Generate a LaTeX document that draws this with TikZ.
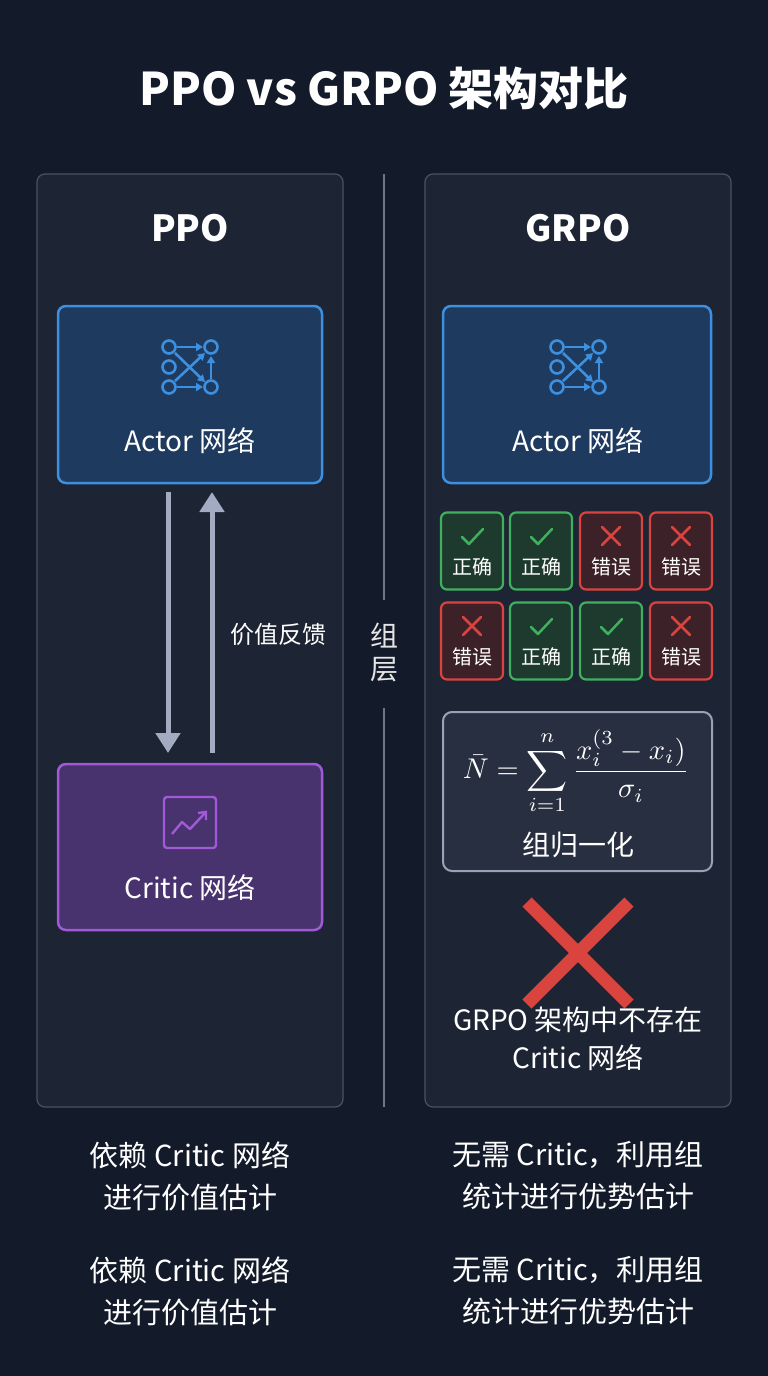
\documentclass[tikz,border=0pt]{standalone}
\usepackage{fontspec}
\setmainfont{Noto Sans CJK SC}
\usetikzlibrary{arrows.meta}
\definecolor{bg}{HTML}{131A2A}
\definecolor{panel}{HTML}{1D2434}
\definecolor{pborder}{HTML}{4A5265}
\definecolor{ablue}{HTML}{3D8FE0}
\definecolor{ablfill}{HTML}{1E3A5E}
\definecolor{cpur}{HTML}{A05AD8}
\definecolor{cpfill}{HTML}{48336E}
\definecolor{gok}{HTML}{3FB15E}
\definecolor{gfill}{HTML}{1E3A2E}
\definecolor{rbad}{HTML}{D9443F}
\definecolor{rfill}{HTML}{3D2129}
\definecolor{arr}{HTML}{A3ABC2}
\definecolor{fbox}{HTML}{282F40}
\tikzset{
 panelbox/.style={draw=pborder,fill=panel,rounded corners=8pt,line width=1.2pt},
 actorbox/.style={draw=ablue,fill=ablfill,rounded corners=8pt,line width=2.5pt},
 criticbox/.style={draw=cpur,fill=cpfill,rounded corners=8pt,line width=2.5pt},
 okbox/.style={draw=gok,fill=gfill,rounded corners=6pt,line width=2.2pt,minimum width=62pt,minimum height=77pt,inner sep=0},
 badbox/.style={draw=rbad,fill=rfill,rounded corners=6pt,line width=2.2pt,minimum width=62pt,minimum height=77pt,inner sep=0},
 txt/.style={text=white,font=\fontsize{28}{32}\selectfont},
 small/.style={text=white,font=\fontsize{20}{24}\selectfont},
 bigarrow/.style={draw=arr,line width=5pt,-{Triangle[length=20pt,width=24pt]}},
}
\newcommand{\netico}[1]{%
 \begin{scope}[shift={#1},draw=ablue,line width=2.6pt]
  \foreach \p in {(-21,-20),(-21,0),(-21,20),(21,-20),(21,20)} \draw \p circle (6.5pt);
  \draw[-{Triangle[length=7pt,width=8pt]}] (-13,-20)--(13,-20);
  \draw[-{Triangle[length=7pt,width=8pt]}] (-13,20)--(13,20);
  \draw[-{Triangle[length=7pt,width=8pt]}] (-15,-14)--(15,15);
  \draw[-{Triangle[length=7pt,width=8pt]}] (-15,14)--(15,-14);
  \draw[-{Triangle[length=7pt,width=8pt]}] (21,12)--(21,-11);
 \end{scope}}
\begin{document}
\begin{tikzpicture}[x=1pt,y=-1pt]
\fill[bg] (0,0) rectangle (768,1376);
\node[text=white,font=\bfseries\fontsize{45}{50}\selectfont] (title) at (384,88) {PPO vs GRPO 架构对比};
% panels
\draw[panelbox] (37,174) rectangle (343,1107);
\draw[panelbox] (425,174) rectangle (731,1107);
\draw[pborder!80!white,line width=1.5pt] (384,174)--(384,600) (384,708)--(384,1107);
\node[txt,text=white!80!gray] (zu) at (384,636) {组};
\node[txt,text=white!80!gray] (ceng) at (384,670) {层};
\node[text=white,font=\bfseries\fontsize{36}{40}\selectfont] (ppo) at (190,228) {PPO};
\node[text=white,font=\bfseries\fontsize{36}{40}\selectfont] (grpo) at (578,228) {GRPO};
% PPO
\draw[actorbox] (58,306) rectangle (322,483);
\netico{(190,367)}
\node[txt] (actorLt) at (190,441) {Actor 网络};
\draw[criticbox] (58,764) rectangle (322,930);
\begin{scope}[draw=cpur,line width=2.4pt]
 \draw[rounded corners=3pt] (164,797) rectangle (216,848);
 \draw[line join=round] (172,834)--(182,822)--(190,829)--(205,813);
 \draw (198,813)--(206,812)--(206,820);
\end{scope}
\node[txt] (criticLt) at (190,888) {Critic 网络};
\coordinate (d1) at (168,492); \coordinate (d2) at (168,753);
\coordinate (u1) at (212,753); \coordinate (u2) at (212,492);
\draw[bigarrow] (d1)--(d2);
\draw[bigarrow] (u1)--(u2);
\node[txt,font=\fontsize{24}{28}\selectfont] (fb) at (278,634) {价值反馈};
% GRPO
\draw[actorbox] (443,306) rectangle (711,483);
\netico{(578,367)}
\node[txt] (actorR) at (578,441) {Actor 网络};
\foreach \x/\y/\k [count=\i] in {472/551/1,541/551/1,611/551/0,681/551/0,472/641/0,541/641/1,611/641/1,681/641/0}{
 \ifnum\k=1
  \node[okbox] (g\i) at (\x,\y) {};
  \draw[gok,line width=2.5pt,line cap=round,line join=round] (\x-10,\y-14)--(\x-3,\y-7)--(\x+11,\y-22);
  \node[small] at (\x,\y+16) {正确};
 \else
  \node[badbox] (g\i) at (\x,\y) {};
  \draw[rbad,line width=2.5pt,line cap=round] (\x-9,\y-24)--(\x+9,\y-6) (\x+9,\y-24)--(\x-9,\y-6);
  \node[small] at (\x,\y+16) {错误};
 \fi}
\draw[draw=arr!80!gray,fill=fbox,rounded corners=9pt,line width=2pt] (443,712) rectangle (712,871);
\node[text=white,inner sep=0] (form) at (576,772) {\scalebox{2.85}{$\displaystyle \bar N=\sum_{i=1}^{n}\frac{x_i^{(3}-x_i)}{\sigma_i}$}};
\node[txt] (norm) at (578,845) {组归一化};
\draw[rbad,line width=13pt] (527,902)--(629,1004) (629,902)--(527,1004);
\node[txt,align=center,font=\fontsize{28}{38}\selectfont] (nocritic) at (578,1039) {GRPO 架构中不存在\\Critic 网络};
% bottom
\foreach \y in {1176,1291}{
 \node[txt,align=center,font=\fontsize{29}{42}\selectfont] at (190,\y) {依赖 Critic 网络\\进行价值估计};
 \node[txt,align=center,font=\fontsize{29}{42}\selectfont] at (578,\y) {无需 Critic，利用组\\统计进行优势估计};
}
\end{tikzpicture}
\end{document}
